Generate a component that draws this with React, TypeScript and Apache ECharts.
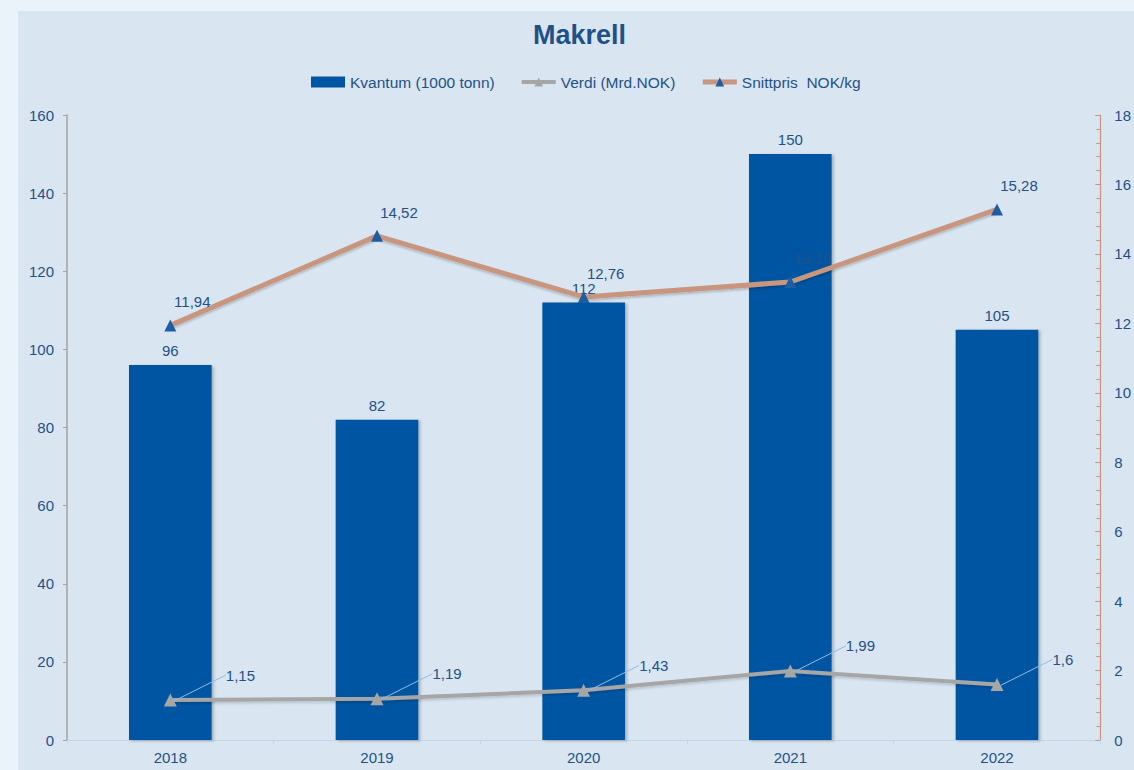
import React, { useEffect, useRef } from "react";
import * as echarts from "echarts";

const years = ["2018", "2019", "2020", "2021", "2022"];
const kvantum = [96, 82, 112, 150, 105];
const verdi = [1.15, 1.19, 1.43, 1.99, 1.6];
const snittpris = [11.94, 14.52, 12.76, 13.19, 15.28];
const leftTicks = { min: 0, max: 160, interval: 20 };
const rightTicks = { min: 0, max: 18, interval: 2 };

const TEXT = "#1f5188";
const FONT = "Liberation Sans, Arial, sans-serif";
const FS = 15;
const fmt = (v: number) => String(v).replace(".", ",");

export default function App() {
  const ref = useRef<HTMLDivElement>(null);
  useEffect(() => {
    if (!ref.current) return;
    const chart = echarts.init(ref.current, undefined, { renderer: "svg" });
    chart.setOption({
      animation: false,
      backgroundColor: "#eaf2fa",
      textStyle: { fontFamily: FONT },
      graphic: [
        {
          type: "rect",
          x: 18,
          y: 11,
          shape: { width: 1200, height: 800 },
          style: { fill: "#d9e6f2" },
          z: -10,
          silent: true,
        },
      ],
      title: {
        text: "Makrell",
        left: 533,
        top: 21,
        padding: 0,
        textStyle: { color: TEXT, fontSize: 27, fontWeight: "bold", fontFamily: FONT },
      },
      legend: {
        top: 74,
        left: 311,
        padding: 0,
        itemGap: 25,
        itemWidth: 34,
        itemHeight: 11,
        textStyle: { color: TEXT, fontSize: 15.5, fontFamily: FONT },
        data: [
          { name: "Kvantum (1000 tonn)", icon: "rect" },
          { name: "Verdi (Mrd.NOK)", lineStyle: { width: 4 } },
          { name: "Snittpris  NOK/kg", lineStyle: { width: 5 } },
        ],
      },
      grid: { left: 67, right: 31, top: 115, bottom: 30 },
      xAxis: {
        type: "category",
        data: years,
        boundaryGap: true,
        axisLine: { lineStyle: { color: "#bfd6ec", width: 1 } },
        axisTick: { show: true, length: 4, lineStyle: { color: "#bfd6ec" } },
        axisLabel: { color: TEXT, fontSize: FS, margin: 10, fontFamily: FONT },
      },
      yAxis: [
        {
          type: "value",
          min: leftTicks.min,
          max: leftTicks.max,
          interval: leftTicks.interval,
          position: "left",
          splitLine: { show: false },
          axisLine: { show: true, lineStyle: { color: "#a3a3a3", width: 1.5 } },
          axisTick: { show: true, length: 4, lineStyle: { color: "#a3a3a3" } },
          axisLabel: { color: TEXT, fontSize: FS, margin: 13, fontFamily: FONT },
        },
        {
          type: "value",
          min: rightTicks.min,
          max: rightTicks.max,
          interval: rightTicks.interval,
          position: "right",
          splitLine: { show: false },
          axisLine: { show: true, lineStyle: { color: "#c9927c", width: 1.2 } },
          axisTick: { show: true, inside: true, length: 5, lineStyle: { color: "#c9927c" } },
          minorTick: { show: true, splitNumber: 5, length: 4, lineStyle: { color: "#c9927c" } },
          axisLabel: { color: TEXT, fontSize: FS, margin: 14, fontFamily: FONT },
        },
      ],
      series: [
        {
          name: "Kvantum (1000 tonn)",
          type: "bar",
          data: kvantum,
          barWidth: "40%",
          itemStyle: {
            color: "#0055a3",
            shadowColor: "rgba(0,0,0,0.25)",
            shadowBlur: 3,
            shadowOffsetX: 2,
            shadowOffsetY: 1,
          },
          label: {
            show: true,
            position: "top",
            distance: 7,
            color: TEXT,
            fontSize: FS,
            fontFamily: FONT,
          },
          z: 2,
        },
        {
          name: "Verdi (Mrd.NOK)",
          type: "line",
          yAxisIndex: 1,
          data: verdi,
          symbol: "triangle",
          symbolSize: 13,
          lineStyle: {
            color: "#a6a6a6",
            width: 4,
            shadowColor: "rgba(0,0,0,0.15)",
            shadowBlur: 2,
            shadowOffsetY: 2,
          },
          itemStyle: { color: "#a6a6a6" },
          label: {
            show: true,
            position: "right",
            distance: 5,
            color: TEXT,
            fontSize: FS,
            fontFamily: FONT,
            formatter: (p: any) => fmt(p.value),
          },
          labelLayout: { dx: 44, dy: -25 },
          labelLine: { show: true, lineStyle: { color: "#8fbbe6", width: 1 } },
          z: 4,
        },
        {
          name: "Snittpris  NOK/kg",
          type: "line",
          yAxisIndex: 1,
          data: snittpris,
          symbol: "triangle",
          symbolSize: 12,
          lineStyle: {
            color: "#c8967f",
            width: 5,
            shadowColor: "rgba(0,0,0,0.2)",
            shadowBlur: 2,
            shadowOffsetY: 2,
          },
          itemStyle: { color: "#1d5ea3" },
          label: {
            show: true,
            position: "top",
            distance: 5,
            offset: [22, -5],
            color: TEXT,
            fontSize: FS,
            fontFamily: FONT,
            formatter: (p: any) => fmt(p.value),
          },
          z: 5,
        },
      ],
    });
    return () => chart.dispose();
  }, []);
  return (
    <div
      ref={ref}
      style={{ position: "absolute", left: 0, top: 0, width: 1134, height: 770 }}
    />
  );
}
